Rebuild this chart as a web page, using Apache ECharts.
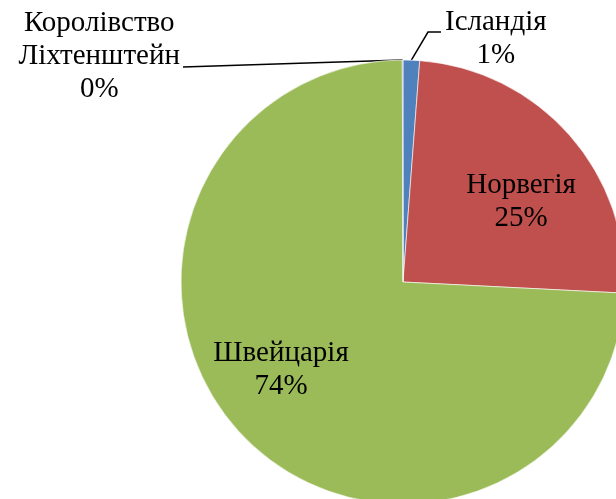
<!DOCTYPE html>
<html>
<head>
<meta charset="utf-8">
<script src="https://cdn.jsdelivr.net/npm/echarts@6/dist/echarts.min.js"></script>
<style>
  html, body { margin: 0; padding: 0; background: #fff; }
  #chart { width: 616px; height: 499px; }
</style>
</head>
<body>
<div id="chart"></div>
<script>
// країни та частки (%)
const countries = ['Ісландія', 'Норвегія', 'Швейцарія', 'Королівство\nЛіхтенштейн'];
const shares = [1.2, 24.6, 74.15, 0.05];
const shareLabels = ['1%', '25%', '74%', '0%'];
const colors = ['#4F81BD', '#C0504D', '#9BBB59', '#8064A2'];

// де стоять підписи (як в оригіналі)
const labelPos = [
  { x: 445, y: 39, align: 'left' },
  { x: 521, y: 202, align: 'center' },
  { x: 281, y: 370, align: 'center' },
  { x: 180, y: 56, align: 'right' }
];

const chart = echarts.init(document.getElementById('chart'));

const option = {
  animation: false,
  series: [{
    type: 'pie',
    center: [403, 282],
    radius: 222,
    startAngle: 90,
    clockwise: true,
    minAngle: 0,
    avoidLabelOverlap: false,
    itemStyle: { borderColor: '#fff', borderWidth: 0.6 },
    label: {
      show: true,
      position: 'outside',
      formatter: function (p) {
        return p.name.split('\n').map(s => '{t|' + s + '}').join('\n') + '\n{t|' + shareLabels[p.dataIndex] + '}';
      },
      rich: {
        t: {
          fontFamily: 'Liberation Serif',
          fontSize: 29,
          lineHeight: 33,
          color: '#000',
          align: 'center'
        }
      }
    },
    labelLine: {
      show: true,
      lineStyle: { color: '#000', width: 1.5 }
    },
    labelLayout: function (params) {
      const i = params.dataIndex;
      const p = labelPos[i];
      const res = { x: p.x, y: p.y, align: p.align, verticalAlign: 'middle' };
      const start = params.labelLinePoints && params.labelLinePoints[0];
      if (start && i === 0) {
        // виноска вгору-вправо, потім коротка горизонталь
        res.labelLinePoints = [start, [p.x - 17, p.y - 7], [p.x - 4, p.y - 7]];
      } else if (start && i === 3) {
        // майже горизонтальна виноска вліво
        res.labelLinePoints = [start, [(start[0] + p.x) / 2, (start[1] + p.y + 11) / 2], [p.x + 3, p.y + 11]];
      }
      return res;
    },
    data: countries.map((c, i) => ({
      name: c,
      value: shares[i],
      itemStyle: { color: colors[i] },
      labelLine: { show: i === 0 || i === 3 }
    }))
  }]
};

chart.setOption(option);
</script>
</body>
</html>
